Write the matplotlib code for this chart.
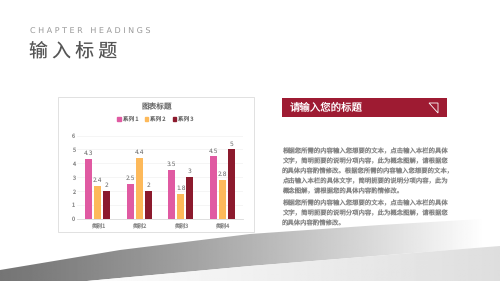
import matplotlib
matplotlib.use("Agg")
import matplotlib.pyplot as plt
import numpy as np
from matplotlib.patches import Polygon, Rectangle, Patch

plt.rcParams["font.family"] = ["Noto Sans CJK SC", "DejaVu Sans"]
plt.rcParams["text.hinting"] = "no_hinting"
plt.rcParams["text.hinting_factor"] = 1

# chart data
categories = ["类别1", "类别2", "类别3", "类别4"]
series_names = ["系列 1", "系列 2", "系列 3"]
series1 = [4.3, 2.5, 3.5, 4.5]
series2 = [2.4, 4.4, 1.8, 2.8]
series3 = [2, 2, 3, 5]
y_ticks = [0, 1, 2, 3, 4, 5, 6]
colors = ["#E05AA2", "#FDB95A", "#8C1A2D"]

# slide texts
kicker = "C H A P T E R   H E A D I N G S"
heading = "输 入 标 题"
chart_title = "图表标题"
banner_title = "请输入您的标题"
body_lines = [
    "根据您所需的内容输入您想要的文本，点击输入本栏的具体",
    "文字，简明扼要的说明分项内容，此为概念图解，请根据您",
    "的具体内容酌情修改。根据您所需的内容输入您想要的文本，",
    "点击输入本栏的具体文字，简明扼要的说明分项内容，此为",
    "概念图解，请根据您的具体内容酌情修改。",
    "根据您所需的内容输入您想要的文本，点击输入本栏的具体",
    "文字，简明扼要的说明分项内容，此为概念图解，请根据您",
    "的具体内容酌情修改。",
]
body_y = [151, 161, 171, 181, 191, 203.3, 213.3, 223.3]

fig = plt.figure(figsize=(5, 2.81), dpi=100)

# background layer in pixel coordinates
bg = fig.add_axes([0, 0, 1, 1])
bg.set_xlim(0, 500)
bg.set_ylim(281, 0)
bg.axis("off")

xx, yy = np.meshgrid(np.linspace(0, 500, 400), np.linspace(0, 281, 225))

band = Polygon([(0, 270), (120, 250), (250, 234), (380, 225), (500, 218),
                (500, 246), (250, 266), (87, 281), (0, 281)],
               closed=True, fill=False, lw=0, transform=bg.transData)
bg.add_patch(band)
shade_a = np.clip(0.46 + 0.56 * (xx / 500) ** 1.2, 0, 1)
im_a = bg.imshow(shade_a, extent=(0, 500, 281, 0), cmap="gray", vmin=0, vmax=1,
                 aspect="auto", zorder=0)
im_a.set_clip_path(band)

lower = Polygon([(87, 281), (250, 266), (500, 246), (500, 281)],
                closed=True, fill=False, lw=0, transform=bg.transData)
bg.add_patch(lower)
shade_b = np.clip(0.99 - 0.12 * ((xx - 87) / 413), 0, 1)
im_b = bg.imshow(shade_b, extent=(0, 500, 281, 0), cmap="gray", vmin=0, vmax=1,
                 aspect="auto", zorder=0)
im_b.set_clip_path(lower)

bg.text(30, 32, kicker, fontsize=5.6, color="#999999", ha="left", va="center",
        family=["DejaVu Sans"])
bg.text(29, 51, heading, fontsize=13.6, color="#555555", ha="left", va="center")

# chart card
bg.add_patch(Rectangle((58, 97), 196, 135, facecolor="white",
                       edgecolor="#dcdcdc", lw=0.6, zorder=2))
bg.text(157, 106.7, chart_title, fontsize=5.5, color="#6b6b6b",
        ha="center", va="center", zorder=3)

# banner and body text
bg.add_patch(Rectangle((282, 98), 165, 19, facecolor="#9E1B32", lw=0, zorder=2))
bg.text(290, 107.5, banner_title, fontsize=7.5, color="white",
        ha="left", va="center", zorder=3)
bg.add_patch(Polygon([(429, 103), (438, 103), (438, 113)], closed=True,
                     fill=False, edgecolor="white", lw=0.6, zorder=3))
for line, y in zip(body_lines, body_y):
    bg.text(282, y, line, fontsize=4.6, color="#858585", ha="left", va="center")

# bar chart
ax = fig.add_axes([77 / 500, (281 - 219) / 281, 166 / 500, 83.4 / 281])
ax.patch.set_alpha(0)
x = np.arange(len(categories))
width = 0.165
offsets = [-0.22, 0, 0.22]
for vals, off, col in zip([series1, series2, series3], offsets, colors):
    bars = ax.bar(x + off, vals, width, color=col, zorder=3)
    ax.bar_label(bars, labels=[f"{v:g}" for v in vals], padding=2,
                 fontsize=4, color="#666666", family=["DejaVu Sans"])

ax.set_xlim(-0.5, len(categories) - 0.5)
ax.set_ylim(0, 6)
ax.set_yticks(y_ticks)
ax.set_xticks(x)
ax.set_xticklabels(categories)
ax.tick_params(axis="both", length=0, labelsize=4, colors="#888888")
ax.tick_params(axis="y", pad=1.5)
ax.tick_params(axis="x", pad=3)
for s in ["top", "right", "left"]:
    ax.spines[s].set_visible(False)
ax.spines["bottom"].set_color("#d9d9d9")
ax.spines["bottom"].set_linewidth(0.6)
ax.yaxis.grid(True, color="#f2f2f2", lw=0.5)
ax.set_axisbelow(True)

handles = [Patch(color=c) for c in colors]
ax.legend(handles, series_names, ncol=3, loc="center",
          bbox_to_anchor=(155.4 / 500, 1 - 119.3 / 281),
          bbox_transform=fig.transFigure, fontsize=4, frameon=False,
          handlelength=0.6, handleheight=0.6, handletextpad=0.4,
          columnspacing=1.2, labelcolor="#666666")

fig.savefig("out.png", dpi=100)
